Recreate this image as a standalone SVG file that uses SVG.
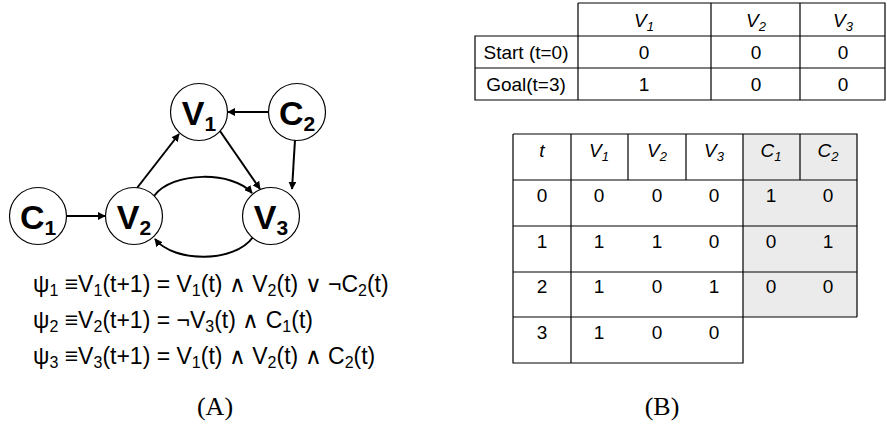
<svg xmlns="http://www.w3.org/2000/svg" width="887" height="425" viewBox="0 0 887 425">
  <style>
    .node circle { fill: #fff; stroke: #000; stroke-width: 1.2; }
    .node text { font-family: "Liberation Sans", Arial, sans-serif; font-weight: bold; font-size: 34px; text-anchor: middle; }
    .sub { font-size: 21px; }
    .edge { fill: none; stroke: #000; stroke-width: 2; marker-end: url(#arrow); }
    .eq { font-family: "Liberation Sans", Arial, sans-serif; font-size: 23px; }
    .esub { font-size: 16px; }
    .cap { font-family: "Liberation Serif", "Times New Roman", serif; font-size: 26px; text-anchor: middle; }
    .grid { stroke: #000; stroke-width: 1.2; fill: none; }
    .cell { font-family: "Liberation Sans", Arial, sans-serif; font-size: 19px; text-anchor: middle; }
    .it { font-style: italic; }
    .tsub { font-size: 13px; }
  </style>
  <defs>
    <marker id="arrow" viewBox="0 0 10 10" refX="9" refY="5" markerWidth="4" markerHeight="4" orient="auto" markerUnits="strokeWidth">
      <path d="M0,0 L10,5 L0,10 z" fill="#000"/>
    </marker>
  </defs>

  <!-- connectors -->
  <g id="connectors">
    <path class="edge" d="M269,112 L228,112"/>
    <path class="edge" d="M137,188 L179,134"/>
    <path class="edge" d="M220,131 L260,189"/>
    <path class="edge" d="M295,140 L292,189"/>
    <path class="edge" d="M67,216 L105,216"/>
    <path class="edge" d="M154,196 C172,171 233,171 252,193"/>
    <path class="edge" d="M253,237 C235,263 174,263 155,239"/>
  </g>

  <!-- nodes -->
  <g id="V1" class="node"><circle cx="199" cy="112" r="28.5"/><text x="199" y="125">V<tspan class="sub" dy="6">1</tspan></text></g>
  <g id="C2" class="node"><circle cx="297" cy="112" r="28.5"/><text x="297" y="125">C<tspan class="sub" dy="6">2</tspan></text></g>
  <g id="C1" class="node"><circle cx="38" cy="216" r="28.5"/><text x="38" y="229">C<tspan class="sub" dy="6">1</tspan></text></g>
  <g id="V2" class="node"><circle cx="134" cy="216" r="28.5"/><text x="134" y="229">V<tspan class="sub" dy="6">2</tspan></text></g>
  <g id="V3" class="node"><circle cx="271" cy="216" r="28.5"/><text x="271" y="229">V<tspan class="sub" dy="6">3</tspan></text></g>

  <!-- update rules -->
  <g id="rules" class="eq">
    <text x="33" y="292">ψ<tspan class="esub" dy="4">1</tspan><tspan dy="-4"> ≡V</tspan><tspan class="esub" dy="4">1</tspan><tspan dy="-4">(t+1) = V</tspan><tspan class="esub" dy="4">1</tspan><tspan dy="-4">(t) ∧ V</tspan><tspan class="esub" dy="4">2</tspan><tspan dy="-4">(t) ∨ ¬C</tspan><tspan class="esub" dy="4">2</tspan><tspan dy="-4">(t)</tspan></text>
    <text x="33" y="328">ψ<tspan class="esub" dy="4">2</tspan><tspan dy="-4"> ≡V</tspan><tspan class="esub" dy="4">2</tspan><tspan dy="-4">(t+1) = ¬V</tspan><tspan class="esub" dy="4">3</tspan><tspan dy="-4">(t) ∧ C</tspan><tspan class="esub" dy="4">1</tspan><tspan dy="-4">(t)</tspan></text>
    <text x="33" y="364">ψ<tspan class="esub" dy="4">3</tspan><tspan dy="-4"> ≡V</tspan><tspan class="esub" dy="4">3</tspan><tspan dy="-4">(t+1) = V</tspan><tspan class="esub" dy="4">1</tspan><tspan dy="-4">(t) ∧ V</tspan><tspan class="esub" dy="4">2</tspan><tspan dy="-4">(t) ∧ C</tspan><tspan class="esub" dy="4">2</tspan><tspan dy="-4">(t)</tspan></text>
  </g>
  <text class="cap" x="215" y="415">(A)</text>
  <text class="cap" x="662" y="415">(B)</text>

  <!-- start / goal table -->
  <g id="goal-table">
    <path class="grid" d="M578,3 H885 V100 H475 V36 H885 M475,68 H885 M578,3 V100 M711,3 V100 M800,3 V100"/>
    <g class="cell">
      <text class="it" x="644" y="27">V<tspan class="tsub" dy="4">1</tspan></text>
      <text class="it" x="756" y="27">V<tspan class="tsub" dy="4">2</tspan></text>
      <text class="it" x="843" y="27">V<tspan class="tsub" dy="4">3</tspan></text>
      <text x="526" y="59">Start (t=0)</text>
      <text x="644" y="59">0</text><text x="756" y="59">0</text><text x="843" y="59">0</text>
      <text x="526" y="91">Goal(t=3)</text>
      <text x="644" y="91">1</text><text x="756" y="91">0</text><text x="843" y="91">0</text>
    </g>
  </g>

  <!-- trajectory table -->
  <g id="trajectory-table">
    <rect x="743" y="134" width="114" height="183" fill="#ebebeb"/>
    <path class="grid" d="M513,134 H857 V317 M513,134 V363 H743 V134 M513,180 H857 M513,226 H857 M513,272 H857 M513,317 H857 M571,134 V363 M628,134 V180 M686,134 V180 M800,134 V180"/>
    <g class="cell">
      <text class="it" x="542" y="157">t</text>
      <text class="it" x="599" y="157">V<tspan class="tsub" dy="4">1</tspan></text>
      <text class="it" x="657" y="157">V<tspan class="tsub" dy="4">2</tspan></text>
      <text class="it" x="714" y="157">V<tspan class="tsub" dy="4">3</tspan></text>
      <text class="it" x="771" y="157">C<tspan class="tsub" dy="4">1</tspan></text>
      <text class="it" x="828" y="157">C<tspan class="tsub" dy="4">2</tspan></text>
      <text x="542" y="202">0</text><text x="599" y="202">0</text><text x="657" y="202">0</text><text x="714" y="202">0</text><text x="771" y="202">1</text><text x="828" y="202">0</text>
      <text x="542" y="248">1</text><text x="599" y="248">1</text><text x="657" y="248">1</text><text x="714" y="248">0</text><text x="771" y="248">0</text><text x="828" y="248">1</text>
      <text x="542" y="293">2</text><text x="599" y="293">1</text><text x="657" y="293">0</text><text x="714" y="293">1</text><text x="771" y="293">0</text><text x="828" y="293">0</text>
      <text x="542" y="339">3</text><text x="599" y="339">1</text><text x="657" y="339">0</text><text x="714" y="339">0</text>
    </g>
  </g>
</svg>
